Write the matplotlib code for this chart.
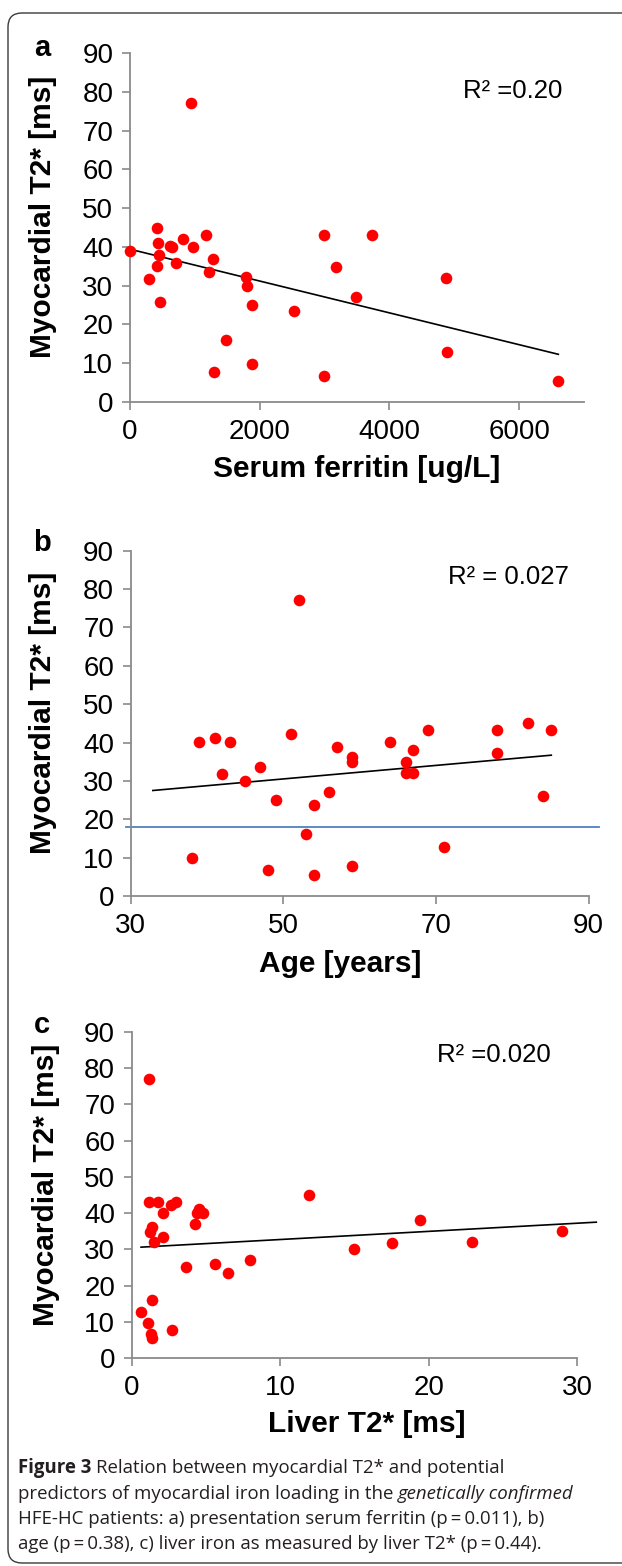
import numpy as np
import matplotlib
matplotlib.use('Agg')
import matplotlib.pyplot as plt
from matplotlib import font_manager as fm
from matplotlib.patches import FancyBboxPatch
from matplotlib.transforms import IdentityTransform

plt.rcParams['font.family'] = ['Liberation Sans', 'DejaVu Sans']

# panel a: serum ferritin
ferritin = [0, 946, 419, 430, 445, 419, 297, 465, 614, 640, 706, 818, 972, 1176, 1279, 1212,
            1790, 1811, 1877, 1483, 1289, 1877, 2532, 2992, 2992, 3182, 3483, 3734, 4875, 4880, 6593]
t2_a = [38.9, 77, 44.9, 41, 38, 35, 31.7, 25.8, 40.2, 40, 35.9, 42.1, 40, 43, 37, 33.4,
        32.2, 30, 25, 16, 7.7, 9.9, 23.5, 43, 6.7, 34.8, 27, 43, 31.9, 12.8, 5.4]
trend_a_x = [0, 6604]
trend_a_y = [39.4, 12.3]

# panel b: age
age = [39, 41, 43, 42, 45, 47, 49, 51, 52, 38, 48, 53, 54, 54, 56, 57, 59, 59, 59,
       64, 66, 66, 67, 67, 69, 71, 78, 78, 82, 85, 84]
t2_b = [40.2, 41.1, 40.2, 31.8, 30.1, 33.5, 25.1, 42.3, 77.1, 9.8, 6.8, 16.2, 23.6, 5.5, 27.1,
        38.9, 36.1, 35.0, 7.8, 40.2, 35.0, 32.1, 32.1, 38.1, 43.2, 12.9, 43.2, 37.2, 45.2, 43.2, 26.0]
trend_b_x = [32.9, 85.1]
trend_b_y = [27.5, 36.7]
cutoff_x = [29.4, 91.3]
cutoff_y = [18, 18]

# panel c: liver T2*
liver = [1.17, 1.17, 1.8, 2.63, 2.99, 2.13, 4.54, 4.42, 4.78, 4.27, 1.35, 1.24, 2.13, 1.5, 3.64,
         5.64, 6.51, 7.95, 11.95, 14.96, 17.54, 19.43, 22.95, 28.97, 1.35, 0.61, 1.12, 1.28, 1.39, 2.74]
t2_c = [77.1, 43.1, 43.1, 42.2, 43.1, 40.1, 41.2, 40.1, 40.1, 37, 36.1, 34.8, 33.5, 32, 25,
        25.9, 23.5, 27, 45, 30.1, 31.7, 38.1, 32, 35.1, 16, 12.7, 9.75, 6.7, 5.4, 7.7]
trend_c_x = [0.63, 31.3]
trend_c_y = [30.6, 37.5]

W, H = 622, 1566
fig = plt.figure(figsize=(W / 100, H / 100), dpi=100)


def px_axes(left, top, right, bottom):
    return fig.add_axes([left / W, 1 - bottom / H, (right - left) / W, (bottom - top) / H])


def style(ax, xlim, xticks, label_x, label_y, xlabel, letter, letter_y):
    ax.set_xlim(*xlim)
    ax.set_ylim(0, 90)
    ax.set_xticks(xticks)
    ax.set_yticks(range(0, 91, 10))
    for s in ['top', 'right']:
        ax.spines[s].set_visible(False)
    for s in ['left', 'bottom']:
        ax.spines[s].set_color('#8a8a8a')
        ax.spines[s].set_linewidth(1.3)
    ax.tick_params(direction='out', length=6, width=1.2, color='#8a8a8a', labelsize=20, pad=6)
    ax.set_xlabel(xlabel, fontsize=21.5, fontweight='bold')
    ax.set_ylabel('Myocardial T2* [ms]', fontsize=21.5, fontweight='bold')
    ax.xaxis.set_label_coords(label_x, label_y)
    ax.yaxis.set_label_coords(-0.161, 0.53)
    fig.text(42 / W, 1 - letter_y / H, letter, fontsize=21, fontweight='bold',
             ha='center', va='center')


dot = dict(color='#ff0000', s=70, zorder=3, linewidths=0, clip_on=False)

ax1 = px_axes(130, 53, 584, 402)
ax1.scatter(ferritin, t2_a, **dot)
ax1.plot(trend_a_x, trend_a_y, color='black', lw=1.2, clip_on=False)
ax1.text(0.844, 0.891, 'R² =0.20', transform=ax1.transAxes, fontsize=18.5, ha='center', va='center')
style(ax1, (0, 7000), [0, 2000, 4000, 6000], 0.5, -0.152, 'Serum ferritin [ug/L]', 'a', 48)

ax2 = px_axes(130.7, 550.7, 588.7, 896)
ax2.plot(cutoff_x, cutoff_y, color='#4f81bd', lw=1.3, clip_on=False, zorder=2)
ax2.scatter(age, t2_b, **dot)
ax2.plot(trend_b_x, trend_b_y, color='black', lw=1.2, clip_on=False)
ax2.text(0.824, 0.924, 'R² = 0.027', transform=ax2.transAxes, fontsize=18.5, ha='center', va='center')
style(ax2, (30, 90), [30, 50, 70, 90], 0.457, -0.155, 'Age [years]', 'b', 543)

ax3 = px_axes(131.7, 1032, 577, 1358)
ax3.scatter(liver, t2_c, **dot)
ax3.plot(trend_c_x, trend_c_y, color='black', lw=1.2, clip_on=False)
ax3.text(0.814, 0.929, 'R² =0.020', transform=ax3.transAxes, fontsize=18.5, ha='center', va='center')
style(ax3, (0, 30), [0, 10, 20, 30], 0.528, -0.16, 'Liver T2* [ms]', 'c', 1025)

# rounded frame, running off the right edge
frame = FancyBboxPatch((8, 3), 640, H - 13 - 3, boxstyle='round,pad=0,rounding_size=14',
                       transform=IdentityTransform(), facecolor='none', edgecolor='#3a3a3a', lw=1.0)
fig.add_artist(frame)

# caption
avail = {f.name for f in fm.fontManager.ttflist}
cap_font = 'Open Sans' if 'Open Sans' in avail else 'DejaVu Sans'
cap_col = '#231f20'
renderer = fig.canvas.get_renderer()

cap_lines = [
    [('Figure 3', dict(fontweight='bold')), ('Relation between myocardial T2* and potential', {})],
    [('predictors of myocardial iron loading in the', {}), ('genetically confirmed', dict(style='italic'))],
    [('HFE-HC patients: a) presentation serum ferritin (p\u2009=\u20090.011), b)', {})],
    [('age (p\u2009=\u20090.38), c) liver iron as measured by liver T2* (p\u2009=\u20090.44).', {})],
]
cap_y = [1468, 1494, 1519, 1544]


def width(t, size, **kw):
    tt = fig.text(0, 0, t, family=cap_font, fontsize=size, **kw)
    w = tt.get_window_extent(renderer).width
    tt.remove()
    return w


def line_width(parts, size):
    sp = width('a a', size) - width('aa', size)
    return sum(width(t, size, **kw) for t, kw in parts) + sp * (len(parts) - 1)


# size chosen so the lines together take about the width they take in the figure
total = sum(line_width(p, 13) for p in cap_lines)
cap_size = 13 * 2080 / total
space = width('a a', cap_size) - width('aa', cap_size)

for y, parts in zip(cap_y, cap_lines):
    x = 18
    for t, kw in parts:
        fig.text(x / W, 1 - y / H, t, family=cap_font, fontsize=cap_size, color=cap_col,
                 va='center', ha='left', **kw)
        x += width(t, cap_size, **kw) + space

fig.savefig('out.png', dpi=100)
